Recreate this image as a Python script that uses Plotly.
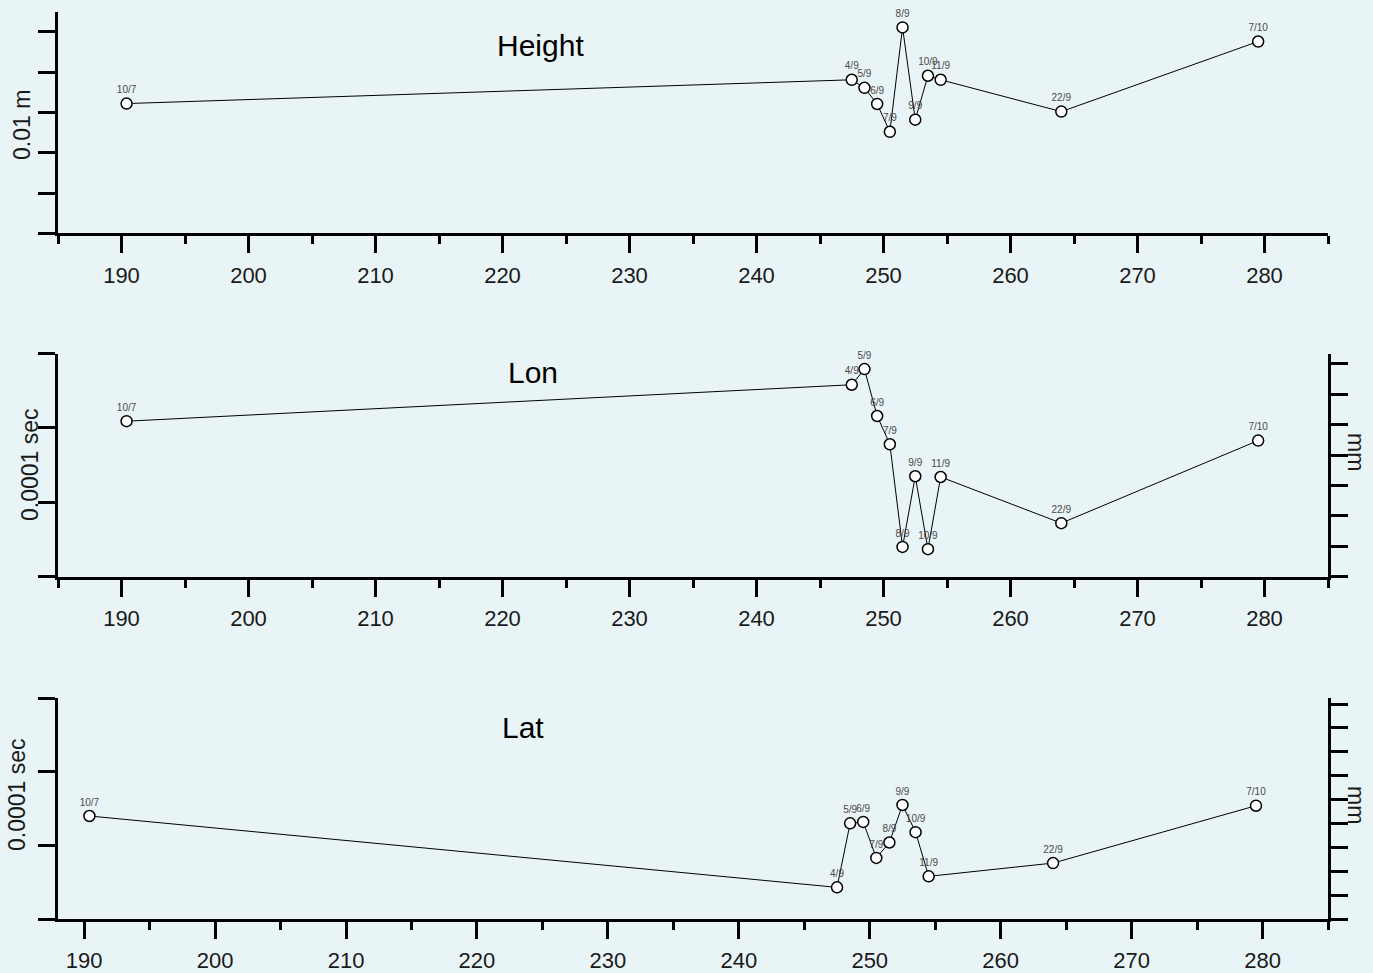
import plotly.graph_objects as go

# ---- data ----
labels = ["10/7", "4/9", "5/9", "6/9", "7/9", "8/9", "9/9", "10/9", "11/9", "22/9", "7/10"]
day = [190.4, 247.5, 248.5, 249.5, 250.5, 251.5, 252.5, 253.5, 254.5, 264.0, 279.5]
height = [3.22, 3.81, 3.61, 3.21, 2.52, 5.11, 2.82, 3.91, 3.81, 3.02, 4.76]
lon = [2.09, 2.58, 2.79, 2.16, 1.78, 0.40, 1.35, 0.37, 1.34, 0.72, 1.83]
lat = [1.40, 0.43, 1.30, 1.32, 0.83, 1.04, 1.55, 1.18, 0.58, 0.76, 1.54]
panel_titles = ["Height", "Lon", "Lat"]
left_titles = ["0.01 m", "0.0001 sec", "0.0001 sec"]
right_title = "mm"

W, H = 1373, 973
BG = "#E9F4F6"
FONT = "Liberation Sans, Arial, Helvetica, sans-serif"


def px(x):
    return x / W


def py(y):
    return 1 - y / H


fig = go.Figure()

series = [height, lon, lat]
axes = [("x", "y"), ("x2", "y2"), ("x3", "y3")]
for vals, (xa, ya) in zip(series, axes):
    fig.add_trace(go.Scatter(
        x=day, y=vals, xaxis=xa, yaxis=ya,
        mode="lines+markers+text",
        text=labels, textposition="top center",
        textfont=dict(size=10, color="#4a4a4a", family=FONT),
        line=dict(color="black", width=1),
        marker=dict(symbol="circle", size=11, color="white",
                    line=dict(color="black", width=1.5)),
        showlegend=False, cliponaxis=False,
    ))

# empty traces so the right-hand axes get drawn
fig.add_trace(go.Scatter(x=[], y=[], xaxis="x2", yaxis="y4", showlegend=False))
fig.add_trace(go.Scatter(x=[], y=[], xaxis="x3", yaxis="y5", showlegend=False))

xdom = [px(58), px(1328)]

common_x = dict(
    showline=True, linewidth=3, linecolor="black",
    ticks="outside", ticklen=17, tickwidth=3, tickcolor="black",
    dtick=10, tick0=0, showgrid=False, zeroline=False,
    tickfont=dict(size=22, color="#1a1a1a", family=FONT),
    ticklabelstandoff=3,
    minor=dict(ticks="outside", ticklen=8, tickwidth=3, tickcolor="black", dtick=5, tick0=0, showgrid=False),
)
common_y = dict(
    showline=True, linewidth=3, linecolor="black",
    ticks="outside", ticklen=17, tickwidth=3, tickcolor="black",
    dtick=1, tick0=0, showgrid=False, zeroline=False,
    showticklabels=False,
)

fig.update_layout(
    width=W, height=H, autosize=False,
    margin=dict(l=0, r=0, t=0, b=0, pad=0),
    paper_bgcolor=BG, plot_bgcolor=BG,
    font=dict(family=FONT),
    xaxis=dict(domain=xdom, range=[185, 285], anchor="y", **common_x),
    xaxis2=dict(domain=xdom, range=[185, 285], anchor="y2", **common_x),
    xaxis3=dict(domain=xdom, range=[188, 285], anchor="y3", **common_x),
    yaxis=dict(domain=[py(233.3), py(11.7)], range=[0, 5.5], anchor="x", **common_y),
    yaxis2=dict(domain=[py(576.7), py(353.5)], range=[0, 3], anchor="x2", **common_y),
    yaxis3=dict(domain=[py(919), py(698.3)], range=[0, 3], anchor="x3", **common_y),
    yaxis4=dict(overlaying="y2", side="right", anchor="x2", range=[0, 7.34], **common_y),
    yaxis5=dict(overlaying="y3", side="right", anchor="x3", range=[0, 9.24], **common_y),
)

# panel titles
title_pos = [(540, 45), (533, 372), (523, 727)]
for t, (x, y) in zip(panel_titles, title_pos):
    fig.add_annotation(text=t, x=px(x), y=py(y), xref="paper", yref="paper",
                       showarrow=False, xanchor="center", yanchor="middle",
                       font=dict(size=30, color="black", family=FONT))

# left axis titles
lt_pos = [(22, 125), (30, 465), (17, 795)]
for t, (x, y) in zip(left_titles, lt_pos):
    fig.add_annotation(text=t, x=px(x), y=py(y), xref="paper", yref="paper",
                       showarrow=False, xanchor="center", yanchor="middle", textangle=-90,
                       font=dict(size=23, color="#1a1a1a", family=FONT))

# right axis titles
for (x, y) in [(1356, 452), (1356, 805)]:
    fig.add_annotation(text=right_title, x=px(x), y=py(y), xref="paper", yref="paper",
                       showarrow=False, xanchor="center", yanchor="middle", textangle=90,
                       font=dict(size=23, color="#1a1a1a", family=FONT))

fig.write_html("out.html")
